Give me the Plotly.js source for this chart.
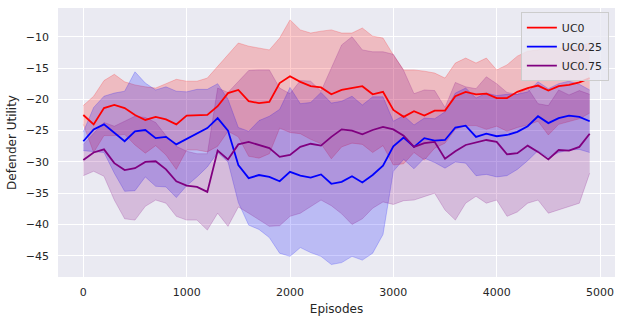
<!DOCTYPE html>
<html>
<head>
<meta charset="utf-8">
<script src="https://cdn.plot.ly/plotly-3.0.1.min.js"></script>
<style>
  html, body { margin: 0; padding: 0; background: #fff; }
  #chart { width: 622px; height: 322px; }
</style>
</head>
<body>
<div id="chart"></div>
<script>
// episodes sampled every 100
const episodes = [0, 100, 200, 300, 400, 500, 600, 700, 800, 900,
  1000, 1100, 1200, 1300, 1400, 1500, 1600, 1700, 1800, 1900,
  2000, 2100, 2200, 2300, 2400, 2500, 2600, 2700, 2800, 2900,
  3000, 3100, 3200, 3300, 3400, 3500, 3600, 3700, 3800, 3900,
  4000, 4100, 4200, 4300, 4400, 4500, 4600, 4700, 4800, 4900];

// mean utility per series
const uc0 = [-22.5, -24.0, -21.4, -20.9, -21.4, -22.5, -23.3, -22.8, -23.2, -24.0,
  -22.6, -22.6, -22.5, -21.1, -19.0, -18.5, -20.3, -20.6, -20.4, -17.4,
  -16.3, -17.2, -17.9, -18.1, -19.2, -18.5, -18.2, -17.9, -19.2, -18.8,
  -21.7, -22.8, -21.9, -22.6, -21.8, -21.8, -19.5, -18.8, -19.2, -19.1,
  -19.8, -19.8, -18.8, -18.2, -17.8, -18.6, -17.9, -17.7, -17.3, -16.6];
const uc025 = [-26.7, -24.8, -24.0, -25.4, -26.7, -25.1, -24.9, -26.2, -26.0, -27.2,
  -26.3, -25.4, -24.6, -23.0, -25.0, -30.5, -32.6, -32.1, -32.4, -33.1,
  -31.6, -32.2, -32.5, -32.0, -33.5, -33.2, -32.3, -33.3, -32.1, -30.6,
  -27.5, -26.1, -27.6, -26.2, -26.6, -26.5, -24.5, -24.2, -26.0, -25.5,
  -25.9, -25.7, -25.2, -24.3, -22.7, -23.8, -23.0, -22.6, -22.8, -23.5];
const uc075 = [-29.7, -28.5, -28.0, -30.2, -31.3, -31.0, -30.0, -29.9, -31.2, -33.1,
  -33.8, -34.0, -34.8, -28.2, -29.6, -27.2, -26.8, -27.3, -27.8, -29.2,
  -28.9, -27.6, -27.1, -27.4, -26.0, -24.8, -25.0, -25.6, -24.9, -24.4,
  -24.8, -25.8, -27.6, -27.0, -26.8, -29.5, -28.3, -27.3, -26.9, -26.5,
  -26.8, -28.8, -28.6, -27.4, -28.4, -29.6, -28.1, -28.2, -27.6, -25.5];

// half width of the shaded band
const uc0Spread = [1.5, 4.5, 4.4, 4.9, 4.2, 4.8, 5.3, 4.6, 5.7, 7.2,
  5.5, 5.5, 5.9, 6.4, 6.1, 7.5, 8.8, 8.8, 8.3, 7.2,
  9.0, 8.3, 8.5, 9.0, 10.3, 9.1, 8.8, 9.3, 9.3, 8.6,
  8.8, 7.5, 6.6, 7.1, 6.0, 5.2, 5.3, 5.4, 5.0, 5.7,
  4.5, 5.3, 5.7, 5.9, 5.7, 7.1, 6.1, 5.9, 5.8, 5.6];
const uc025Spread = [1.5, 3.5, 4.5, 6.4, 8.0, 9.5, 7.5, 7.7, 8.0, 8.5,
  7.5, 7.0, 6.2, 5.5, 5.0, 6.0, 7.5, 8.7, 9.7, 11.5,
  13.5, 11.5, 12.0, 13.1, 12.9, 12.9, 12.8, 12.4, 12.5, 11.0,
  4.0, 3.5, 3.5, 3.2, 3.5, 4.5, 5.5, 6.0, 6.2, 6.5,
  6.5, 6.5, 6.0, 5.5, 5.5, 5.5, 5.5, 5.5, 5.2, 5.0];
const uc075Spread = [2.5, 3.0, 4.3, 5.9, 7.8, 8.3, 7.1, 6.2, 5.4, 5.6,
  5.5, 5.3, 6.1, 10.0, 10.7, 10.0, 11.4, 12.0, 12.5, 11.0,
  9.8, 10.6, 10.0, 8.7, 11.0, 13.5, 15.0, 13.5, 12.5, 12.0,
  12.0, 10.4, 8.5, 8.5, 8.2, 8.2, 11.0, 9.3, 8.6, 10.1,
  9.3, 9.9, 9.4, 9.2, 7.7, 8.6, 9.6, 8.9, 9.0, 6.3];

const seriesNames = ['UC0', 'UC0.25', 'UC0.75'];
const seriesMeans = [uc0, uc025, uc075];
const seriesSpreads = [uc0Spread, uc025Spread, uc075Spread];
const seriesColors = ['255,0,0', '0,0,255', '128,0,128'];

const traces = [];

seriesMeans.forEach((mean, i) => {
  const lo = mean.map((v, k) => v - seriesSpreads[i][k]);
  const hi = mean.map((v, k) => v + seriesSpreads[i][k]);
  const edge = { color: `rgba(${seriesColors[i]},0.2)`, width: 1 };
  traces.push({ x: episodes, y: lo, mode: 'lines', line: edge, showlegend: false, hoverinfo: 'skip' });
  traces.push({ x: episodes, y: hi, mode: 'lines', line: edge, fill: 'tonexty',
    fillcolor: `rgba(${seriesColors[i]},0.2)`, showlegend: false, hoverinfo: 'skip' });
});

seriesMeans.forEach((mean, i) => {
  traces.push({ x: episodes, y: mean, mode: 'lines', name: seriesNames[i],
    line: { color: `rgb(${seriesColors[i]})`, width: 1.8 } });
});

const axisFont = { family: 'DejaVu Sans', size: 11, color: '#262626' };

const layout = {
  width: 622, height: 322,
  margin: { l: 58, r: 7, t: 8, b: 45 },
  paper_bgcolor: '#ffffff',
  plot_bgcolor: '#EAEAF2',
  font: axisFont,
  showlegend: true,
  legend: {
    x: 0.989, y: 0.985, xanchor: 'right', yanchor: 'top',
    traceorder: 'normal',
    bgcolor: 'rgba(234,234,242,0.8)', bordercolor: '#cccccc', borderwidth: 1,
    font: { family: 'DejaVu Sans', size: 11, color: '#262626' },
    itemwidth: 30, tracegroupgap: 0
  },
  xaxis: {
    range: [-245, 5145], tickvals: [0, 1000, 2000, 3000, 4000, 5000],
    showgrid: true, gridcolor: '#ffffff', gridwidth: 1, zeroline: false,
    showline: false, ticks: '', ticklabelstandoff: 7, tickfont: axisFont,
    title: { text: 'Episodes', font: { family: 'DejaVu Sans', size: 12, color: '#262626' }, standoff: 6 }
  },
  yaxis: {
    range: [-48.4, -5.4], tickvals: [-45, -40, -35, -30, -25, -20, -15, -10],
    showgrid: true, gridcolor: '#ffffff', gridwidth: 1, zeroline: false,
    showline: false, ticks: '', ticklabelstandoff: 8, tickfont: axisFont,
    title: { text: 'Defender Utility', font: { family: 'DejaVu Sans', size: 12, color: '#262626' }, standoff: 6 }
  }
};

Plotly.newPlot('chart', traces, layout, { staticPlot: true, displayModeBar: false });
</script>
</body>
</html>
